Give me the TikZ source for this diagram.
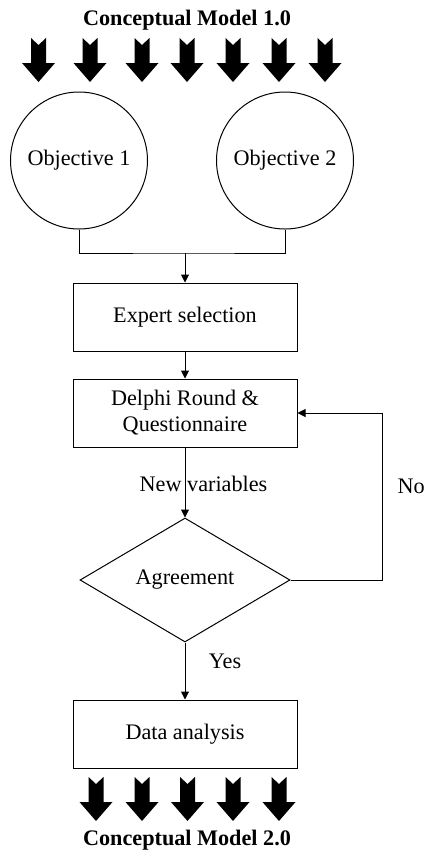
\documentclass[tikz,border=0pt]{standalone}
\usepackage{fontspec}
\setmainfont{Liberation Serif}
\usetikzlibrary{arrows.meta,positioning,shapes.geometric}

\begin{document}
\begin{tikzpicture}[x=0.5pt, y=-0.5pt, line width=0.5pt,
  font=\fontsize{11.1}{13}\selectfont,
  box/.style={draw, minimum width=112pt, minimum height=34pt, align=center, inner sep=1pt},
  goal/.style={draw, circle, minimum size=68.5pt, inner sep=0pt},
  choice/.style={draw, diamond, minimum width=105pt, minimum height=62pt, inner sep=0pt, aspect=1.7},
  arr/.style={-{Triangle[length=4pt, width=4pt]}},
  title/.style={font=\fontsize{11.1}{13}\selectfont\bfseries},
  fatdown/.pic={\fill (-7.5,0) -- (0,7) -- (7.5,0) -- (7.5,25) -- (16.5,25) -- (0,44) -- (-16.5,25) -- (-7.5,25) -- cycle;}]
\useasboundingbox (0,0) rectangle (424,853);
\node[title] (cm1) at (187,20) {Conceptual Model 1.0};
\foreach \x in {38.5,90,142,187,233,279,325} \pic at (\x,38) {fatdown};
\node[goal] (o1) at (79,160.5) {Objective 1};
\node[goal] (o2) at (285,160.5) {Objective 2};
\coordinate (m) at (185,253);
\node[box] (exp) at (185,317) {Expert selection};
\node[box] (del) at (185,413) {Delphi Round \&\\ Questionnaire};
\node[choice] (agr) at (185,580) {Agreement};
\coordinate (loop) at (382,580);
\node[box] (dat) at (185,734) {Data analysis};
\draw (o1.south) |- (m) -| (o2.south);
\draw[arr] (m) -- (exp);
\draw[arr] (exp) -- (del);
\draw[arr] (del) -- (agr);
\draw[arr] (agr.east) -- (loop) |- (del.east);
\draw[arr] (agr) -- (dat);
\node (nv) at (203.5,484) {New variables};
\node[anchor=west, inner sep=0pt] (no) at (397,486) {No};
\node (yes) at (225,661) {Yes};
\foreach \x in {96,142,187.5,233,279} \pic at (\x,777) {fatdown};
\node[title] (cm2) at (187,840) {Conceptual Model 2.0};
\end{tikzpicture}
\end{document}
